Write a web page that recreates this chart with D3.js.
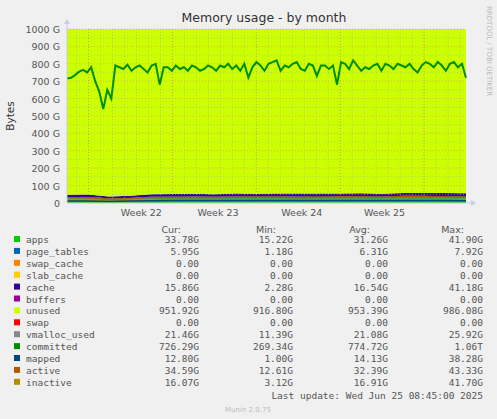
<!DOCTYPE html>
<html><head><meta charset="utf-8">
<script src="https://cdn.jsdelivr.net/npm/d3@7"></script>
<style>body{margin:0;background:#f0f0f0}text{font-family:"DejaVu Sans",sans-serif}</style>
</head><body><svg id="c" width="497" height="419"></svg>
<script>
'use strict';
// values in G, sampled evenly across the month (days 0..33.3)
var committed = [715,720,735,755,765,750,780,700,640,540,650,600,790,780,770,795,760,780,790,770,750,790,800,680,780,780,760,790,770,780,760,790,780,760,770,790,780,760,790,780,800,770,790,760,800,720,780,810,790,760,800,810,820,760,790,780,800,810,770,760,800,790,730,790,790,770,790,680,810,800,770,820,790,760,780,770,790,800,760,800,790,770,800,790,780,800,770,750,790,810,800,780,810,790,760,800,810,780,800,720];
var apps = [28,29,22,24,30,30,31,30,32,31,32,31,30,32,33,31,35,34,33,34];
var pageTables = [6,6,5,5,6,6,6,6,6,6,6,7,6,6,6,6,7,7,6,6];
var cache = [14,14,10,12,15,16,16,15,17,16,17,16,18,16,17,16,16,17,18,16];
var active = [30,30,22,26,32,32,32,31,33,33,33,32,33,34,34,33,36,36,35,35];
var inactive = [15,15,10,13,16,16,17,16,17,17,17,17,17,17,17,17,17,18,17,16];
var mapped = [12,12,9,11,13,14,14,14,15,14,14,15,14,14,15,14,15,15,14,13];
var vmalloc = [21,21,20,20,21,21,21,21,21,21,21,21,21,22,21,21,21,21,21,21];
var totalMem = 1007.5;
var weekLabels = ['Week 22','Week 23','Week 24','Week 25'];
var weekLabelDays = [6.2,12.6,19.6,26.5];
var weekStartDays = [1.8,8.8,15.8,22.8,29.8];
var yTicks = [0,100,200,300,400,500,600,700,800,900,1000];
var legendNames = ['apps','page_tables','swap_cache','slab_cache','cache','buffers','unused','swap','vmalloc_used','committed','mapped','active','inactive'];
var legendColors = ['#00CC00','#0066B3','#FF8000','#FFCC00','#330099','#990099','#CCFF00','#FF0000','#888888','#008F00','#00487D','#B35A00','#B38F00'];
var cur = ['33.78G','5.95G','0.00','0.00','15.86G','0.00','951.92G','0.00','21.46G','726.29G','12.80G','34.59G','16.07G'];
var mins = ['15.22G','1.18G','0.00','0.00','2.28G','0.00','916.80G','0.00','11.39G','269.34G','1.00G','12.61G','3.12G'];
var avgs = ['31.26G','6.31G','0.00','0.00','16.54G','0.00','953.39G','0.00','21.08G','774.72G','14.13G','32.39G','16.91G'];
var maxs = ['41.90G','7.92G','0.00','0.00','41.18G','0.00','986.08G','0.00','25.92G','1.06T','38.28G','43.33G','41.70G'];

var svg = d3.select('#c');
var L = 67, R = 466, T = 29, B = 203, days = 33.3;
var x = d3.scaleLinear().domain([0, days]).range([L, R]);
var y = d3.scaleLinear().domain([0, 1000]).range([B, T]);
function xi(arr) { return function (d, i) { return x(i * days / (arr.length - 1)); }; }

svg.append('text').attr('x', 264).attr('y', 22).attr('text-anchor', 'middle')
    .attr('font-size', 12.5).attr('fill', '#333').text('Memory usage - by month');
svg.append('text').attr('transform', 'translate(14,' + (T + B) / 2 + ') rotate(-90)')
    .attr('text-anchor', 'middle').attr('font-size', 10.5).attr('fill', '#333').text('Bytes');
svg.append('text').attr('transform', 'translate(487,6) rotate(90)').attr('font-size', 7)
    .attr('fill', '#bbb').text('RRDTOOL / TOBI OETIKER');

svg.append('rect').attr('x', L).attr('y', T).attr('width', R - L).attr('height', B - T).attr('fill', '#fff');

// stacked areas: apps, page_tables, cache, unused
var stack = apps.map(function (a, i) {
    return { apps: a, pt: pageTables[i], cache: cache[i], unused: totalMem - a - pageTables[i] - cache[i] };
});
var series = d3.stack().keys(['apps', 'pt', 'cache', 'unused'])(stack);
var areaColors = ['#00CC00', '#0066B3', '#330099', '#CCFF00'];
series.forEach(function (s, k) {
    svg.append('path').datum(s).attr('fill', areaColors[k])
        .attr('d', d3.area().x(function (d, i) { return x(i * days / (s.length - 1)); })
            .y0(function (d) { return y(d[0]); }).y1(function (d) { return y(Math.min(d[1], 1000)); }));
});

// grid
var g = svg.append('g');
d3.range(0, 1001, 50).forEach(function (v) {
    g.append('line').attr('x1', L).attr('x2', R).attr('y1', y(v)).attr('y2', y(v))
        .attr('stroke', v % 100 === 0 ? '#e08080' : '#aaa').attr('stroke-width', 0.6).attr('stroke-dasharray', '1,2');
});
d3.range(0.8, days, 1).forEach(function (dd) {
    g.append('line').attr('x1', x(dd)).attr('x2', x(dd)).attr('y1', T).attr('y2', B)
        .attr('stroke', '#aaa').attr('stroke-width', 0.6).attr('stroke-dasharray', '1,2');
});
weekStartDays.forEach(function (dd) {
    g.append('line').attr('x1', x(dd)).attr('x2', x(dd)).attr('y1', T).attr('y2', B)
        .attr('stroke', '#e08080').attr('stroke-width', 0.6).attr('stroke-dasharray', '1,2');
});

// lines
function drawLine(arr, color, w) {
    svg.append('path').datum(arr).attr('fill', 'none').attr('stroke', color).attr('stroke-width', w)
        .attr('d', d3.line().x(xi(arr)).y(function (d) { return y(d); }));
}
drawLine(vmalloc, '#888888', 1.5);
drawLine(inactive, '#B38F00', 1.5);
drawLine(mapped, '#00487D', 1.5);
drawLine(active, '#B35A00', 1.5);
drawLine(committed, '#008F00', 2);

// axes
svg.append('line').attr('x1', L).attr('x2', R + 6).attr('y1', B).attr('y2', B).attr('stroke', '#ccd').attr('stroke-width', 1);
svg.append('line').attr('x1', L).attr('x2', L).attr('y1', B).attr('y2', T - 6).attr('stroke', '#ccd').attr('stroke-width', 1);
svg.append('path').attr('d', 'M' + (R + 10) + ',' + B + 'l-5,-3v6z').attr('fill', '#ccd');
svg.append('path').attr('d', 'M' + L + ',' + (T - 10) + 'l-3,5h6z').attr('fill', '#ccd');
yTicks.forEach(function (v) {
    svg.append('text').attr('x', 60).attr('y', y(v) + 4).attr('text-anchor', 'end')
        .attr('font-size', 9.5).attr('fill', '#555').text(v === 0 ? '0' : v + ' G');
});
weekLabels.forEach(function (w, i) {
    svg.append('text').attr('x', x(weekLabelDays[i])).attr('y', 216).attr('text-anchor', 'middle')
        .attr('font-size', 9.5).attr('fill', '#555').text(w);
});

// legend
var lg = svg.append('g').attr('font-family', 'DejaVu Sans Mono').attr('font-size', 9.5).attr('fill', '#555');
[['Cur:', 181], ['Min:', 276], ['Avg:', 370], ['Max:', 464]].forEach(function (h) {
    lg.append('text').attr('x', h[1]).attr('y', 233).attr('text-anchor', 'end').attr('font-family', 'DejaVu Sans Mono').text(h[0]);
});
legendNames.forEach(function (n, i) {
    var yy = 243 + i * 11.9;
    svg.append('rect').attr('x', 14).attr('y', yy - 7).attr('width', 6).attr('height', 6).attr('fill', legendColors[i]);
    lg.append('text').attr('x', 26).attr('y', yy).style('font-family', 'DejaVu Sans Mono').text(n);
    [[cur, 199], [mins, 293], [avgs, 388], [maxs, 483]].forEach(function (c) {
        lg.append('text').attr('x', c[1]).attr('y', yy).attr('text-anchor', 'end').style('font-family', 'DejaVu Sans Mono').text(c[0][i]);
    });
});
lg.append('text').attr('x', 483).attr('y', 399).attr('text-anchor', 'end').style('font-family', 'DejaVu Sans Mono')
    .text('Last update: Wed Jun 25 08:45:00 2025');
svg.append('text').attr('x', 248).attr('y', 412).attr('text-anchor', 'middle').attr('font-size', 7).attr('fill', '#bbb').text('Munin 2.0.75');
</script></body></html>
